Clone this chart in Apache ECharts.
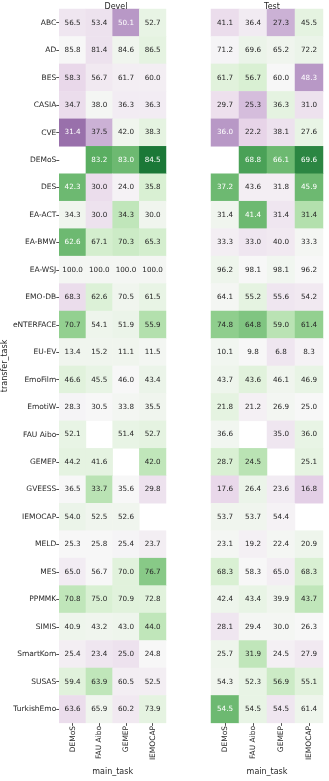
<!DOCTYPE html>
<html>
<head>
<meta charset="utf-8">
<script src="https://cdn.jsdelivr.net/npm/echarts@6/dist/echarts.min.js"></script>
<style>
  html, body { margin: 0; padding: 0; background: #fff; }
  #chart { width: 329px; height: 781px; }
</style>
</head>
<body>
<div id="chart"></div>
<script>
// 行（transfer_task）与列（main_task）
const transferTasks = ['ABC', 'AD', 'BES', 'CASIA', 'CVE', 'DEMoS', 'DES', 'EA-ACT', 'EA-BMW', 'EA-WSJ',
  'EMO-DB', 'eNTERFACE', 'EU-EV', 'EmoFilm', 'EmotiW', 'FAU Aibo', 'GEMEP', 'GVEESS', 'IEMOCAP',
  'MELD', 'MES', 'PPMMK', 'SIMIS', 'SmartKom', 'SUSAS', 'TurkishEmo']
const mainTasks = ['DEMoS', 'FAU Aibo', 'GEMEP', 'IEMOCAP']

// Devel 数值
const develValues = [
  [56.5, 53.4, 50.1, 52.7], [85.8, 81.4, 84.6, 86.5], [58.3, 56.7, 61.7, 60.0], [34.7, 38.0, 36.3, 36.3],
  [31.4, 37.5, 42.0, 38.3], [null, 83.2, 83.0, 84.5], [42.3, 30.0, 24.0, 35.8], [34.3, 30.0, 34.3, 30.0],
  [62.6, 67.1, 70.3, 65.3], [100.0, 100.0, 100.0, 100.0], [68.3, 62.6, 70.5, 61.5], [70.7, 54.1, 51.9, 55.9],
  [13.4, 15.2, 11.1, 11.5], [46.6, 45.5, 46.0, 43.4], [28.3, 30.5, 33.8, 35.5], [52.1, null, 51.4, 52.7],
  [44.2, 41.6, null, 42.0], [36.5, 33.7, 35.6, 29.8], [54.0, 52.5, 52.6, null], [25.3, 25.8, 25.4, 23.7],
  [65.0, 56.7, 70.0, 76.7], [70.8, 75.0, 70.9, 72.8], [40.9, 43.2, 43.0, 44.0], [25.4, 23.4, 25.0, 24.8],
  [59.4, 63.9, 60.5, 52.5], [63.6, 65.9, 60.2, 73.9]
]
// Devel 颜色（相对变化，-1 紫 ~ +1 绿，按图估计）
const develShades = [
  [-0.1, -0.12, -0.45, 0.1], [0.0, -0.12, 0.05, 0.12], [-0.18, -0.08, -0.05, -0.05], [-0.15, 0.02, -0.06, -0.06],
  [-0.6, -0.35, 0.05, 0.12], [null, 0.6, 0.55, 0.8], [0.55, -0.15, -0.03, 0.2], [0.05, -0.12, 0.3, 0.05],
  [0.55, 0.22, 0.25, 0.22], [0.02, 0.02, 0.02, 0.02], [-0.15, 0.18, 0.05, 0.1], [0.45, 0.06, 0.08, 0.35],
  [0.05, 0.05, 0.05, 0.03], [0.15, 0.1, 0.0, 0.08], [-0.02, 0.0, 0.03, 0.05], [0.1, null, 0.1, 0.12],
  [0.12, 0.12, null, 0.3], [0.0, 0.32, 0.0, -0.12], [0.08, 0.05, 0.05, null], [0.0, 0.0, -0.02, -0.05],
  [-0.06, 0.0, 0.15, 0.48], [0.3, 0.2, 0.15, 0.15], [0.06, 0.05, 0.06, 0.3], [-0.05, -0.1, -0.12, 0.0],
  [0.15, 0.3, -0.05, -0.05], [-0.15, 0.05, -0.08, 0.12]
]

// Test 数值
const testValues = [
  [41.1, 36.4, 27.3, 45.5], [71.2, 69.6, 65.2, 72.2], [61.7, 56.7, 60.0, 48.3], [29.7, 25.3, 36.3, 31.0],
  [36.0, 22.2, 38.1, 27.6], [null, 68.8, 66.1, 69.6], [37.2, 43.6, 31.8, 45.9], [31.4, 41.4, 31.4, 31.4],
  [33.3, 33.0, 40.0, 33.3], [96.2, 98.1, 98.1, 96.2], [64.1, 55.2, 55.6, 54.2], [74.8, 64.8, 59.0, 61.4],
  [10.1, 9.8, 6.8, 8.3], [43.7, 43.6, 46.1, 46.9], [21.8, 21.2, 26.9, 25.0], [36.6, null, 35.0, 36.0],
  [28.7, 24.5, null, 25.1], [17.6, 26.4, 23.6, 16.8], [53.7, 53.7, 54.4, null], [23.1, 19.2, 22.4, 20.9],
  [68.3, 58.3, 65.0, 68.3], [42.4, 43.4, 39.9, 43.7], [28.1, 29.4, 30.0, 26.3], [25.7, 31.9, 24.5, 27.9],
  [54.3, 52.3, 56.9, 55.1], [54.5, 54.5, 54.5, 61.4]
]
// Test 颜色
const testShades = [
  [-0.15, -0.07, -0.35, 0.12], [-0.02, 0.08, 0.05, 0.08], [0.15, 0.2, 0.0, -0.45], [-0.13, -0.3, 0.12, -0.12],
  [-0.45, -0.2, -0.12, 0.1], [null, 0.65, 0.55, 0.75], [0.55, -0.05, -0.05, 0.55], [0.05, 0.55, -0.1, 0.35],
  [-0.05, -0.1, -0.08, 0.02], [0.06, 0.0, 0.04, 0.0], [0.02, 0.12, -0.1, -0.08], [0.46, 0.5, 0.32, 0.45],
  [0.04, 0.0, -0.1, -0.03], [0.06, 0.15, 0.05, 0.1], [0.12, -0.04, 0.03, 0.0], [0.04, null, -0.1, 0.1],
  [0.2, 0.32, null, 0.12], [-0.18, 0.08, -0.06, -0.22], [0.05, 0.05, -0.03, null], [0.02, -0.04, 0.02, 0.06],
  [0.2, 0.0, -0.05, 0.2], [0.06, 0.1, 0.05, 0.3], [-0.1, 0.02, 0.02, 0.0], [0.06, 0.3, -0.04, -0.08],
  [0.05, 0.1, 0.25, 0.15], [0.55, 0.1, -0.1, 0.06]
]

const PRGn = ['#40004b', '#762a83', '#9970ab', '#c2a5cf', '#e7d4e8', '#f7f7f7',
  '#d9f0d3', '#a6dba0', '#5aae61', '#1b7837', '#00441b']
const fontFamily = 'DejaVu Sans'

// 深色格子用白字
const isDark = (s) => s >= 0.52 || s <= -0.4

// 生成热力图数据
const buildData = (values, shades) => {
  const out = []
  values.forEach((row, r) => {
    row.forEach((v, c) => {
      if (v === null) return
      out.push([c, r, v, shades[r][c]])
    })
  })
  return out
}

const cellLabel = {
  show: true,
  formatter: (p) => (isDark(p.value[3]) ? '{w|' : '{d|') + p.value[2].toFixed(1) + '}',
  rich: {
    w: { color: '#ffffff', fontFamily, fontSize: 7.2 },
    d: { color: '#262626', fontFamily, fontSize: 7.2 }
  }
}

const chart = echarts.init(document.getElementById('chart'))

const makeXAxis = (gridIndex) => ({
  type: 'category',
  gridIndex,
  data: mainTasks,
  position: 'bottom',
  name: 'main_task',
  nameLocation: 'middle',
  nameGap: 40,
  nameTextStyle: { fontFamily, fontSize: 8, color: '#262626' },
  axisLine: { show: false },
  axisTick: { show: true, alignWithLabel: true, length: 3, lineStyle: { color: '#262626', width: 0.8 } },
  axisLabel: { rotate: 90, fontFamily, fontSize: 7.5, color: '#262626', margin: 3, interval: 0 },
  splitLine: { show: false }
})

const option = {
  animation: false,
  backgroundColor: '#ffffff',
  title: [
    { text: 'Devel', left: 111, top: -2, textAlign: 'center',
      textStyle: { fontFamily, fontSize: 8, fontWeight: 'normal', color: '#262626' } },
    { text: 'Test', left: 267, top: -2, textAlign: 'center',
      textStyle: { fontFamily, fontSize: 8, fontWeight: 'normal', color: '#262626' } }
  ],
  grid: [
    { left: 57, top: 9, width: 109, height: 725 },
    { left: 211, top: 9, width: 112, height: 725 }
  ],
  xAxis: [makeXAxis(0), makeXAxis(1)],
  yAxis: [
    {
      type: 'category',
      gridIndex: 0,
      data: transferTasks,
      inverse: true,
      name: 'transfer_task',
      nameLocation: 'middle',
      nameRotate: 90,
      nameGap: 48,
      nameTextStyle: { fontFamily, fontSize: 8, color: '#262626' },
      axisLine: { show: false },
      axisTick: { show: true, alignWithLabel: true, length: 3, lineStyle: { color: '#262626', width: 0.8 } },
      axisLabel: { fontFamily, fontSize: 7.5, color: '#262626', margin: 3, interval: 0 },
      splitLine: { show: false }
    },
    {
      type: 'category',
      gridIndex: 1,
      data: transferTasks,
      inverse: true,
      axisLine: { show: false },
      axisTick: { show: false },
      axisLabel: { show: false },
      splitLine: { show: false }
    }
  ],
  visualMap: {
    show: false,
    type: 'continuous',
    min: -1,
    max: 1,
    dimension: 3,
    seriesIndex: [0, 1],
    inRange: { color: PRGn }
  },
  series: [
    {
      type: 'heatmap',
      xAxisIndex: 0,
      yAxisIndex: 0,
      data: buildData(develValues, develShades),
      label: cellLabel,
      emphasis: { disabled: true }
    },
    {
      type: 'heatmap',
      xAxisIndex: 1,
      yAxisIndex: 1,
      data: buildData(testValues, testShades),
      label: cellLabel,
      emphasis: { disabled: true }
    }
  ]
}

chart.setOption(option)
</script>
</body>
</html>
